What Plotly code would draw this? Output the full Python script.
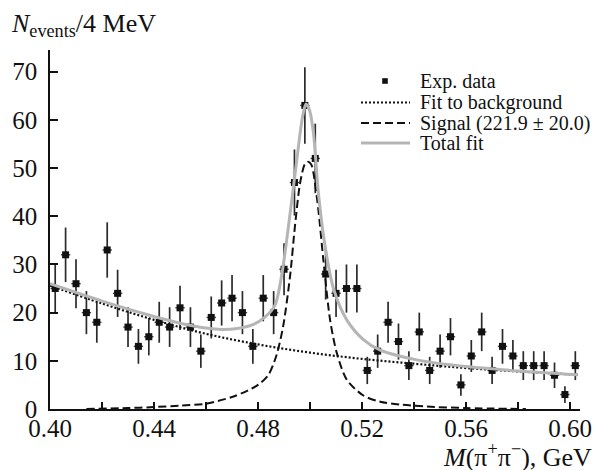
import numpy as np
import plotly.graph_objects as go

# ---- data ----
mass = [0.402,0.406,0.410,0.414,0.418,0.422,0.426,0.430,0.434,0.438,0.442,0.446,0.450,0.454,0.458,
        0.462,0.466,0.470,0.474,0.478,0.482,0.486,0.490,0.494,0.498,0.502,0.506,0.510,0.514,0.518,
        0.522,0.526,0.530,0.534,0.538,0.542,0.546,0.550,0.554,0.558,0.562,0.566,0.570,0.574,0.578,
        0.582,0.586,0.590,0.594,0.598,0.602]
counts = [25,32,26,20,18,33,24,17,13,15,18,17,21,17,12,19,22,23,20,13,23,20,29,47,63,52,28,24,25,25,
          8,12,18,14,9,16,8,12,15,5,11,16,8,13,11,9,9,9,7,3,9]
errors = list(np.sqrt(counts))

bg_x = [0.400,0.420,0.440,0.460,0.480,0.500,0.520,0.540,0.560,0.580,0.603]
bg_y = [25.6,21.9,18.5,15.6,13.4,11.7,10.4,9.4,8.5,7.8,7.1]

sig_x = [0.414,0.430,0.440,0.450,0.460,0.470,0.476,0.480,0.484,0.487,0.4896,0.4923,0.4942,0.4962,
         0.4980,0.4992,0.5004,0.5013,0.5032,0.5051,0.5077,0.5103,0.5141,0.5205,0.527,0.535,0.545,0.560,0.583]
sig_y = [0.0,0.2,0.4,0.7,1.1,2.5,3.8,5.0,7.1,11.0,17.0,27.5,38.0,47.0,50.8,51.3,50.8,49.0,41.3,31.0,
         18.5,11.6,6.1,2.8,1.5,0.9,0.5,0.2,0.0]

tot_x = [0.400,0.420,0.440,0.450,0.460,0.466,0.472,0.478,0.4825,0.4865,0.4891,0.4917,0.4949,0.4970,
         0.4984,0.4998,0.5013,0.5032,0.5058,0.509,0.5141,0.5205,0.527,0.541,0.560,0.580,0.603]
tot_y = [26.0,22.4,19.2,17.8,16.8,16.5,16.7,17.5,19.0,21.5,27.8,37.9,51.7,60.3,63.3,62.0,57.3,44.8,
         33.7,25.0,18.5,14.4,12.2,10.2,8.8,7.9,7.1]

legend_names = ["Exp. data", "Fit to background", "Signal (221.9 ± 20.0)", "Total fit"]
y_title = "<i>N</i><sub>events</sub>/4 MeV"
x_title = "<i>M</i>(π<sup>+</sup>π<sup>−</sup>), GeV"

FONT = "Liberation Serif"
INK = "#111111"
GREY = "#b5b5b5"
DOT = "2px,2px"
DASH = "8px,4px"

fig = go.Figure()
fig.add_trace(go.Scatter(
    x=mass, y=counts, mode="markers", name=legend_names[0],
    marker=dict(symbol="square", size=7, color=INK),
    error_y=dict(type="data", array=errors, visible=True, color="#2a2a2a", thickness=1.7, width=0),
    error_x=dict(type="constant", value=0.0018, visible=True, color="#444444", thickness=1.4, width=0),
))
fig.add_trace(go.Scatter(
    x=bg_x, y=bg_y, mode="lines", name=legend_names[1],
    line=dict(color=INK, width=2.2, dash=DOT, shape="spline", smoothing=1.0),
))
fig.add_trace(go.Scatter(
    x=sig_x, y=sig_y, mode="lines", name=legend_names[2],
    line=dict(color=INK, width=2, dash=DASH, shape="spline", smoothing=0.8),
))
fig.add_trace(go.Scatter(
    x=tot_x, y=tot_y, mode="lines", name=legend_names[3],
    line=dict(color=GREY, width=3, shape="spline", smoothing=0.8),
))

# ---- hand-built legend (tighter row spacing than Plotly's own legend) ----
L, R, T, B, W, H = 50, 29, 50, 61, 609, 470
pw, ph = W - L - R, H - T - B
def px(x):
    return (x - L) / pw
def py(y):
    return (H - B - y) / ph

rows = [81, 102.5, 123, 143]
shapes = []
sq = 2.8
shapes.append(dict(type="rect", xref="paper", yref="paper",
                   x0=px(385 - sq), x1=px(385 + sq), y0=py(rows[0] + sq), y1=py(rows[0] - sq),
                   fillcolor=INK, line=dict(width=0)))
shapes.append(dict(type="line", xref="paper", yref="paper", x0=px(361), x1=px(410),
                   y0=py(rows[1]), y1=py(rows[1]), line=dict(color=INK, width=2.2, dash=DOT)))
shapes.append(dict(type="line", xref="paper", yref="paper", x0=px(361), x1=px(410),
                   y0=py(rows[2]), y1=py(rows[2]), line=dict(color=INK, width=2, dash=DASH)))
shapes.append(dict(type="line", xref="paper", yref="paper", x0=px(361), x1=px(410),
                   y0=py(rows[3]), y1=py(rows[3]), line=dict(color=GREY, width=3)))

annotations = []
for name, r in zip(legend_names, rows):
    annotations.append(dict(text=name, xref="paper", yref="paper", x=px(418), y=py(r),
                            xanchor="left", yanchor="middle", showarrow=False,
                            font=dict(family=FONT, size=20, color=INK)))
annotations.append(dict(text=y_title, xref="paper", yref="paper", x=px(9), y=py(25),
                        xanchor="left", yanchor="middle", showarrow=False,
                        font=dict(family=FONT, size=26, color=INK)))
annotations.append(dict(text=x_title, xref="paper", yref="paper", x=px(441), y=py(455),
                        xanchor="left", yanchor="middle", showarrow=False,
                        font=dict(family=FONT, size=26, color=INK)))

fig.update_layout(
    width=W, height=H, autosize=False,
    margin=dict(l=L, r=R, t=T, b=B),
    paper_bgcolor="white", plot_bgcolor="white",
    font=dict(family=FONT, color=INK, size=25),
    showlegend=False,
    xaxis=dict(range=[0.400, 0.6038], showgrid=False, zeroline=False,
               showline=True, linecolor=INK, linewidth=1.5,
               ticks="inside", ticklen=7, tickwidth=1.5, tickcolor=INK,
               tick0=0.40, dtick=0.04, tickformat=".2f", ticklabelstandoff=-4,
               tickfont=dict(family=FONT, size=25, color=INK),
               minor=dict(dtick=0.02, ticks="inside", ticklen=7, tickwidth=1.5, tickcolor=INK)),
    yaxis=dict(range=[0, 74.5], showgrid=False, zeroline=False,
               showline=True, linecolor=INK, linewidth=1.5,
               ticks="inside", ticklen=8, tickwidth=1.5, tickcolor=INK,
               tick0=0, dtick=10, ticklabelstandoff=6,
               tickfont=dict(family=FONT, size=25, color=INK)),
    shapes=shapes,
    annotations=annotations,
)

fig.write_html("out.html")
